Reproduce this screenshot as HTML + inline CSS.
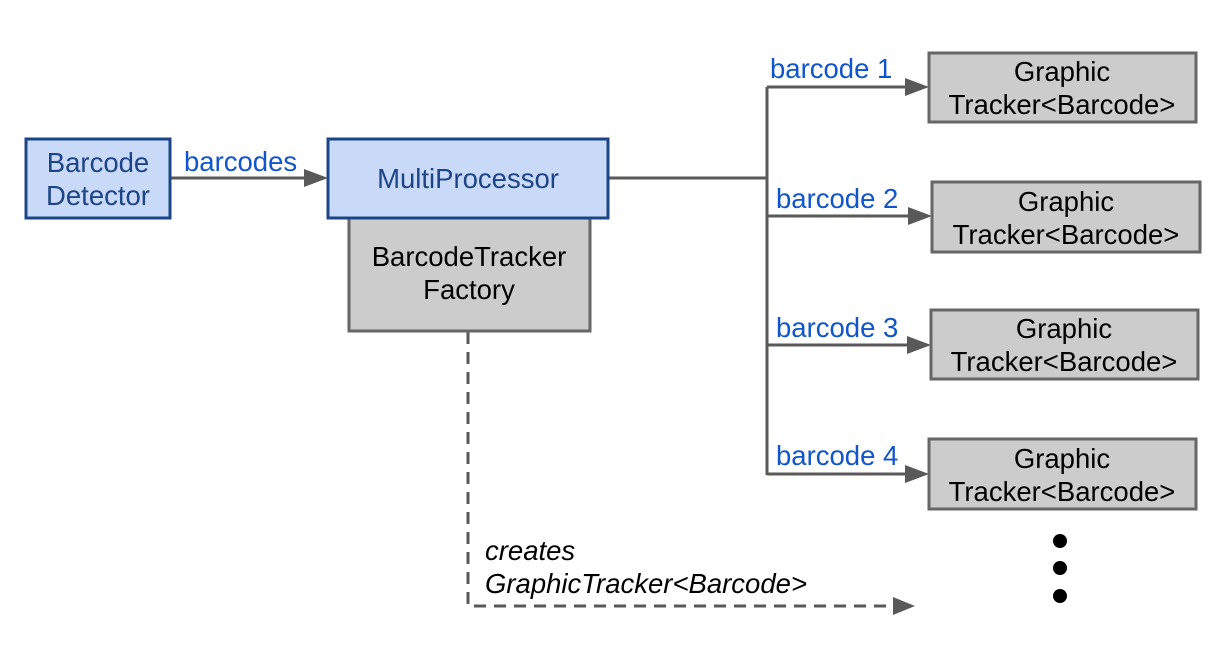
<!DOCTYPE html>
<html><head><meta charset="utf-8"><style>
html,body{margin:0;padding:0;background:#fff;width:1224px;height:660px;overflow:hidden}
text{font-family:"Liberation Sans",Arial,sans-serif;font-size:27.5px}
</style></head><body>
<svg width="1224" height="660" viewBox="0 0 1224 660" xmlns="http://www.w3.org/2000/svg">
<g fill="none" stroke="#595959" stroke-width="3">
<line x1="170" y1="178" x2="306" y2="178"/>
<line x1="608" y1="178" x2="767" y2="178"/>
<line x1="767" y1="87" x2="767" y2="475"/>
</g>
<g stroke="#595959" stroke-width="3" fill="none">
<path d="M767,87 H908"/><path d="M767,216 H910"/><path d="M767,345 H910"/><path d="M767,474 H908"/>
<path d="M468,332 V606 H895" stroke-dasharray="12,8"/>
</g>
<g fill="#595959">
<path d="M304,169 L328,178 L304,187 z"/>
<path d="M905,78 L929,87 L905,96 z"/>
<path d="M908,207 L932,216 L908,225 z"/>
<path d="M907,336 L931,345 L907,354 z"/>
<path d="M905,465 L929,474 L905,483 z"/>
<path d="M893,597 L915,606 L893,615 z"/>
</g>
<rect x="349" y="218" width="241" height="113" fill="#cccccc" stroke="#666" stroke-width="3"/>
<rect x="26" y="139" width="144" height="79" fill="#c9daf8" stroke="#1c4587" stroke-width="3"/>
<rect x="328" y="139" width="280" height="79" fill="#c9daf8" stroke="#1c4587" stroke-width="3"/>
<g fill="#cccccc" stroke="#666" stroke-width="3">
<rect x="929" y="53" width="267" height="69"/>
<rect x="932" y="182" width="268" height="70"/>
<rect x="931" y="310" width="267" height="69"/>
<rect x="929" y="439" width="267" height="70"/>
</g>
<g text-anchor="middle" fill="#1c4587">
<text x="98" y="172">Barcode</text><text x="98" y="205">Detector</text>
<text x="468" y="188">MultiProcessor</text>
</g>
<g text-anchor="middle" fill="#000">
<text x="469" y="266">BarcodeTracker</text><text x="469" y="299">Factory</text>
<text x="1062" y="81">Graphic</text><text x="1062" y="114">Tracker&lt;Barcode&gt;</text>
<text x="1066" y="211">Graphic</text><text x="1066" y="244">Tracker&lt;Barcode&gt;</text>
<text x="1064" y="338">Graphic</text><text x="1064" y="371">Tracker&lt;Barcode&gt;</text>
<text x="1062" y="468">Graphic</text><text x="1062" y="501">Tracker&lt;Barcode&gt;</text>
</g>
<g fill="#1155cc">
<text x="184" y="171">barcodes</text>
<text x="770" y="78">barcode 1</text>
<text x="776" y="208">barcode 2</text>
<text x="776" y="337">barcode 3</text>
<text x="776" y="465">barcode 4</text>
</g>
<g fill="#000">
<text x="485" y="560" style="font-style:italic">creates</text>
<text x="485" y="593" style="font-style:italic">GraphicTracker&lt;Barcode&gt;</text>
</g>
<g fill="#000">
<circle cx="1060" cy="541" r="7"/><circle cx="1060" cy="568" r="7"/><circle cx="1060" cy="596" r="7"/>
</g>
</svg>
</body></html>
